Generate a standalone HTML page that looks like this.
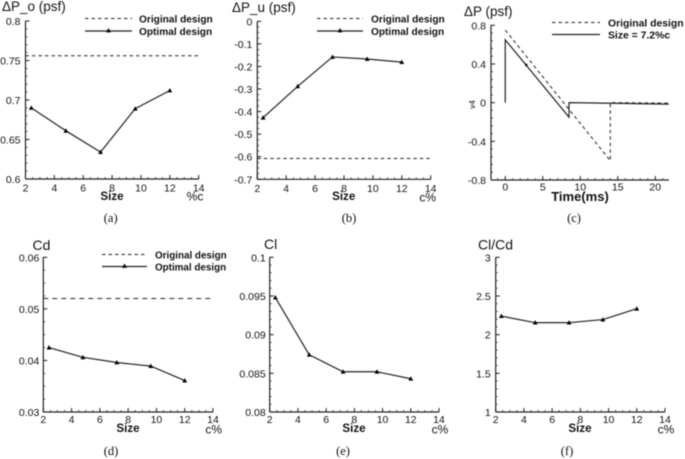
<!DOCTYPE html>
<html>
<head>
<meta charset="utf-8">
<title>Optimization results</title>
<style>
html,body{margin:0;padding:0;background:#fff;width:685px;height:459px;overflow:hidden}
svg{display:block;filter:blur(0.45px)}
text{font-family:"Liberation Sans",sans-serif;fill:#111}
.cap{font-family:"Liberation Serif",serif;font-size:12.5px}
</style>
</head>
<body>
<svg id="fig" width="685" height="459" viewBox="0 0 685 459" xmlns="http://www.w3.org/2000/svg"></svg>
<script>
const sizes = [2.4, 4.8, 7.2, 9.6, 12];
const xTicksSize = [2, 4, 6, 8, 10, 12, 14];

const dpoOptimal = [0.690, 0.661, 0.634, 0.689, 0.712];
const dpoOriginal = [0.756];
const dpoTicks = [0.6, 0.65, 0.7, 0.75, 0.8];
const dpoTickLabels = ['0.6', '0.65', '0.7', '0.75', '0.8'];

const dpuOptimal = [-0.427, -0.288, -0.158, -0.167, -0.181];
const dpuOriginal = [-0.608];
const dpuTicks = [-0.7, -0.6, -0.5, -0.4, -0.3, -0.2, -0.1, 0];
const dpuTickLabels = ['-0.7', '-0.6', '-0.5', '-0.4', '-0.3', '-0.2', '-0.1', '0'];

const timeOriginal = [0, 14, 14, 21.8];
const dpOriginal = [0.75, -0.6, 0, -0.005];
const timeSized = [0, 0, 8.5, 8.5, 21.8];
const dpSized = [0, 0.65, -0.15, 0, -0.015];
const timeProbe = [2.8];
const dpProbe = [0.39];
const timeTicks = [0, 5, 10, 15, 20];
const dpTicks = [-0.8, -0.4, 0, 0.4, 0.8];
const dpTickLabels = ['-0.8', '-0.4', '0', '0.4', '0.8'];

const cdOptimal = [0.0425, 0.0406, 0.0396, 0.0389, 0.0361];
const cdOriginal = [0.052];
const cdTicks = [0.03, 0.04, 0.05, 0.06];
const cdTickLabels = ['0.03', '0.04', '0.05', '0.06'];

const clOptimal = [0.0948, 0.0874, 0.0852, 0.0852, 0.0843];
const clTicks = [0.08, 0.085, 0.09, 0.095, 0.1];
const clTickLabels = ['0.08', '0.085', '0.09', '0.095', '0.1'];

const ldOptimal = [2.24, 2.155, 2.155, 2.195, 2.335];
const ldTicks = [1, 1.5, 2, 2.5, 3];
const ldTickLabels = ['1', '1.5', '2', '2.5', '3'];

const svg = document.getElementById('fig');
const NS = 'http://www.w3.org/2000/svg';

function mk(tag, attrs, parent, txt) {
  const e = document.createElementNS(NS, tag);
  for (const k in attrs) e.setAttribute(k, attrs[k]);
  if (txt !== undefined) e.textContent = txt;
  (parent || svg).appendChild(e);
  return e;
}
function label(parent, name, x, y, txt, size, anchor, bold) {
  const e = mk('text', {x: x, y: y, 'font-size': size, 'text-anchor': anchor || 'start', 'font-weight': bold ? 'bold' : 'normal'}, parent, txt);
  
  
  return e;
}
function seg(parent, name, x1, y1, x2, y2, w, dash) {
  const e = mk('line', {x1: x1, y1: y1, x2: x2, y2: y2, stroke: '#222', 'stroke-width': w || 1}, parent);
  if (dash) e.setAttribute('stroke-dasharray', dash);
  
  
  return e;
}
function marker(parent, x, y) {
  const e = mk('polygon', {points: (x - 2.4) + ',' + (y + 1.9) + ' ' + (x + 2.4) + ',' + (y + 1.9) + ' ' + x + ',' + (y - 2.5), fill: '#000'}, parent);
  
  
}
function polyline(parent, name, xs, ys, sx, sy, w, dash) {
  const pts = xs.map((v, i) => sx(v) + ',' + sy(ys[i])).join(' ');
  const e = mk('polyline', {points: pts, fill: 'none', stroke: '#222', 'stroke-width': w}, parent);
  if (dash) e.setAttribute('stroke-dasharray', dash);
  
  
}
function panel(name, o) {
  const g = mk('g', {});
  
  
  const sx = v => o.L + (v - o.xMin) / (o.xMax - o.xMin) * (o.R - o.L);
  const sy = v => o.B - (v - o.yMin) / (o.yMax - o.yMin) * (o.B - o.T);
  seg(g, 'y-axis', o.L, o.T, o.L, o.B, 1.2);
  seg(g, 'x-axis', o.L, o.B, o.R, o.B, 1.2);
  o.xTicks.forEach(t => {
    seg(g, 'x-tick', sx(t), o.B, sx(t), o.B - 4, 1);
    label(g, 'x-tick-label', sx(t), o.B + o.xLabelDy, String(t), 10.5, 'middle');
  });
  for (let t = o.xMinorStart; t <= o.xMax + 1e-9; t += o.xMinor) {
    seg(g, 'x-minor-tick', sx(t), o.B, sx(t), o.B - 2, 0.7);
  }
  o.yTicks.forEach((t, i) => {
    seg(g, 'y-tick', o.L, sy(t), o.L + 4, sy(t), 1);
    label(g, 'y-tick-label', o.L - o.yLabelGap, sy(t) + 4, o.yLabels[i], 10.5, 'end');
  });
  for (let t = o.yMin; t <= o.yMax + 1e-9; t += o.yMinor) {
    seg(g, 'y-minor-tick', o.L, sy(t), o.L + 2, sy(t), 0.7);
  }
  if (o.original) {
    seg(g, 'original-design-line', o.L, sy(o.original[0]), o.R, sy(o.original[0]), 1, o.dash || '3.5 3');
  }
  if (o.optimal) {
    polyline(g, 'optimal-design-line', sizes, o.optimal, sx, sy, 1.2);
    sizes.forEach((s, i) => marker(g, sx(s), sy(o.optimal[i])));
  }
  return {g: g, sx: sx, sy: sy};
}
function legend(g, x1, x2, yA, yB, tx, second, withMarker, fs) {
  seg(g, 'legend-original-line', x1, yA, x2, yA, 1, '3.5 3');
  seg(g, 'legend-second-line', x1, yB, x2, yB, 1.2);
  if (withMarker) marker(g, (x1 + x2) / 2, yB - 0.5);
  label(g, 'legend-original-label', tx, yA + 4, 'Original design', fs, 'start', true);
  label(g, 'legend-second-label', tx, yB + 4, second, fs, 'start', true);
}

const sizeAxis = {xMin: 2, xMax: 14, xTicks: xTicksSize, xMinor: 0.5, xMinorStart: 2};

let p = panel('chart-a', Object.assign({}, sizeAxis, {L: 25.5, R: 198.7, T: 21, B: 179, yMin: 0.6, yMax: 0.8, yTicks: dpoTicks, yLabels: dpoTickLabels, yMinor: 0.01, yLabelGap: 5, xLabelDy: 12.5, optimal: dpoOptimal, original: dpoOriginal}));
legend(p.g, 85, 132, 18.5, 31, 139, 'Optimal design', true, 10.15);
label(p.g, 'y-axis-title', 2, 11, 'ΔP_o (psf)', 13.5);
label(p.g, 'x-axis-title', 112, 200, 'Size', 11.6, 'middle', true);
label(p.g, 'x-axis-unit', 195, 200.5, '%c', 12, 'middle');
label(p.g, 'caption-a', 110.7, 222, '(a)', 12.5, 'middle').setAttribute('class', 'cap');

p = panel('chart-b', Object.assign({}, sizeAxis, {L: 257.3, R: 430.7, T: 21.3, B: 179.3, yMin: -0.7, yMax: 0, yTicks: dpuTicks, yLabels: dpuTickLabels, yMinor: 0.025, yLabelGap: 5, xLabelDy: 12.5, optimal: dpuOptimal, original: dpuOriginal}));
legend(p.g, 317, 363, 18.5, 31, 371, 'Optimal design', true, 10.15);
label(p.g, 'y-axis-title', 232, 12, 'ΔP_u (psf)', 13.5);
label(p.g, 'x-axis-title', 343.7, 200, 'Size', 11.6, 'middle', true);
label(p.g, 'x-axis-unit', 427.7, 201.5, 'c%', 12, 'middle');
label(p.g, 'caption-b', 349, 222, '(b)', 12.5, 'middle').setAttribute('class', 'cap');

p = panel('chart-c', {L: 491, R: 669, T: 25.3, B: 180, xMin: -1.9, xMax: 21.83, xTicks: timeTicks, xMinor: 1, xMinorStart: -1, yMin: -0.8, yMax: 0.8, yTicks: dpTicks, yLabels: dpTickLabels, yMinor: 0.08, yLabelGap: 5, xLabelDy: 10.5});
polyline(p.g, 'original-design-curve', timeOriginal, dpOriginal, p.sx, p.sy, 1, '3.5 3');
polyline(p.g, 'size-7.2-curve', timeSized, dpSized, p.sx, p.sy, 1.2);
timeProbe.forEach((t, i) => {
  const dot = mk('circle', {cx: p.sx(t), cy: p.sy(dpProbe[i]), r: 1.3, fill: '#111'}, p.g);
  
  
});
legend(p.g, 552, 600, 22.5, 34.5, 608, 'Size = 7.2%c', false, 10.4);
label(p.g, 'y-axis-title', 464, 16, 'ΔP (psf)', 13.5);
label(p.g, 'x-axis-title', 580, 201, 'Time(ms)', 13, 'middle', true);
const v4 = label(p.g, 'series-tag', 475, 104.5, 'v4', 8, 'middle');
v4.setAttribute('transform', 'rotate(-90 475 104.5)');
label(p.g, 'caption-c', 574, 222, '(c)', 12.5, 'middle').setAttribute('class', 'cap');

p = panel('chart-d', Object.assign({}, sizeAxis, {L: 43.3, R: 213, T: 257.3, B: 412, yMin: 0.03, yMax: 0.06, yTicks: cdTicks, yLabels: cdTickLabels, yMinor: 0.0025, yLabelGap: 4, xLabelDy: 11, optimal: cdOptimal, original: cdOriginal, dash: '5 4'}));
legend(p.g, 102, 147, 254.5, 266.5, 155, 'Optimal design', true, 9.85);
label(p.g, 'y-axis-title', 32.5, 250, 'Cd', 14);
label(p.g, 'x-axis-title', 128, 432, 'Size', 11.6, 'middle', true);
label(p.g, 'x-axis-unit', 213.7, 433.5, 'c%', 12, 'middle');
label(p.g, 'caption-d', 111, 455, '(d)', 12.5, 'middle').setAttribute('class', 'cap');

p = panel('chart-e', Object.assign({}, sizeAxis, {L: 269.7, R: 439, T: 257.3, B: 412, yMin: 0.08, yMax: 0.1, yTicks: clTicks, yLabels: clTickLabels, yMinor: 0.001, yLabelGap: 4, xLabelDy: 11, optimal: clOptimal}));
label(p.g, 'y-axis-title', 264, 249, 'Cl', 14);
label(p.g, 'x-axis-title', 354, 432, 'Size', 11.6, 'middle', true);
label(p.g, 'x-axis-unit', 440, 433.5, 'c%', 12, 'middle');
label(p.g, 'caption-e', 343, 455, '(e)', 12.5, 'middle').setAttribute('class', 'cap');

p = panel('chart-f', Object.assign({}, sizeAxis, {L: 495.7, R: 665, T: 257.3, B: 412, yMin: 1, yMax: 3, yTicks: ldTicks, yLabels: ldTickLabels, yMinor: 0.1, yLabelGap: 5, xLabelDy: 11, optimal: ldOptimal}));
label(p.g, 'y-axis-title', 478, 249.5, 'Cl/Cd', 14);
label(p.g, 'x-axis-title', 580, 432, 'Size', 11.6, 'middle', true);
label(p.g, 'x-axis-unit', 666, 433.5, 'c%', 12, 'middle');
label(p.g, 'caption-f', 567, 455, '(f)', 12.5, 'middle').setAttribute('class', 'cap');
</script>
</body>
</html>
